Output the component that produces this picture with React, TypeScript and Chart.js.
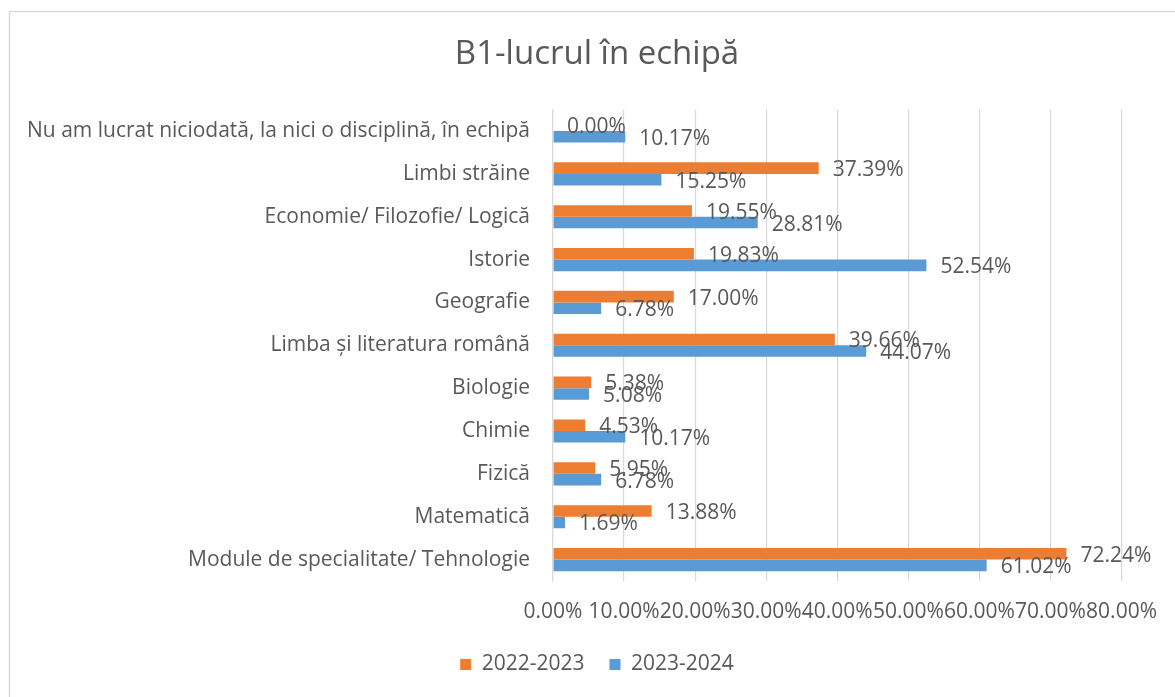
import React, { useEffect, useRef } from "react";
import { Chart, registerables } from "chart.js";

Chart.register(...registerables);

const categories = [
  "Nu am lucrat niciodată, la nici o disciplină, în echipă",
  "Limbi străine",
  "Economie/ Filozofie/ Logică",
  "Istorie",
  "Geografie",
  "Limba și literatura română",
  "Biologie",
  "Chimie",
  "Fizică",
  "Matematică",
  "Module de specialitate/ Tehnologie",
];

const series2022 = [0.0, 37.39, 19.55, 19.83, 17.0, 39.66, 5.38, 4.53, 5.95, 13.88, 72.24];
const series2023 = [10.17, 15.25, 28.81, 52.54, 6.78, 44.07, 5.08, 10.17, 6.78, 1.69, 61.02];

const seriesNames = ["2022-2023", "2023-2024"];
const titleText = "B1-lucrul în echipă";

const FONT = "'Open Sans', 'Noto Sans', sans-serif";
const TEXT = "#595959";
const FS = 21;

const labelsPlugin = {
  id: "valueLabels",
  afterDatasetsDraw(chart: any) {
    const ctx = chart.ctx;
    ctx.save();
    ctx.font = `${FS}px ${FONT}`;
    ctx.fillStyle = TEXT;
    ctx.textAlign = "left";
    ctx.textBaseline = "middle";
    chart.data.datasets.forEach((ds: any, di: number) => {
      const meta = chart.getDatasetMeta(di);
      meta.data.forEach((el: any, i: number) => {
        const v = ds.data[i] as number;
        ctx.fillText(`${v.toFixed(2)}%`, el.x + 14, el.y + 2);
      });
    });
    ctx.restore();
  },
};

const framePlugin = {
  id: "frame",
  beforeDraw(chart: any) {
    const ctx = chart.ctx;
    ctx.save();
    ctx.fillStyle = "#ffffff";
    ctx.fillRect(0, 0, chart.width, chart.height);
    ctx.strokeStyle = "#d9d9d9";
    ctx.lineWidth = 1.5;
    ctx.strokeRect(9.5, 11.5, 1180, 720);
    ctx.restore();
  },
};

export default function App() {
  const ref = useRef<HTMLCanvasElement | null>(null);

  useEffect(() => {
    if (!ref.current) return;
    const chart = new Chart(ref.current, {
      type: "bar",
      data: {
        labels: categories,
        datasets: [
          {
            label: seriesNames[0],
            data: series2022,
            backgroundColor: "#ED7D31",
            categoryPercentage: 0.54,
            barPercentage: 1.0,
          },
          {
            label: seriesNames[1],
            data: series2023,
            backgroundColor: "#5B9BD5",
            categoryPercentage: 0.54,
            barPercentage: 1.0,
          },
        ],
      },
      options: {
        indexAxis: "y",
        animation: false,
        responsive: false,
        maintainAspectRatio: false,
        layout: { padding: { left: 71, right: 52, top: 0, bottom: 12 } },
        plugins: {
          title: {
            display: true,
            text: titleText,
            color: TEXT,
            font: { family: FONT, size: 33, weight: "normal", lineHeight: 1.2 },
            padding: { top: 35, bottom: 35 },
          },
          legend: {
            position: "bottom",
            labels: {
              color: TEXT,
              font: { family: FONT, size: FS },
              boxWidth: 11,
              boxHeight: 11,
              padding: 25,
            },
          },
          tooltip: { enabled: false },
        },
        scales: {
          x: {
            min: 0,
            max: 80,
            ticks: {
              stepSize: 10,
              autoSkip: false,
              maxRotation: 0,
              minRotation: 0,
              padding: 18,
              color: TEXT,
              font: { family: FONT, size: FS },
              callback: (v: any) => `${Number(v).toFixed(2)}%`,
            },
            grid: { color: "#d9d9d9", drawTicks: false, lineWidth: 1.2 },
            border: { display: false },
            afterFit: (s: any) => {
              s.height = 48;
            },
          },
          y: {
            ticks: {
              padding: 23,
              color: TEXT,
              font: { family: FONT, size: FS },
              autoSkip: false,
            },
            grid: { display: false, drawTicks: false },
            border: { display: true, color: "#d9d9d9", width: 1.2 },
            afterFit: (s: any) => {
              s.width = 553 - 71;
              s._computeLabelArea = () => undefined;
            },
          },
        },
      },
      plugins: [framePlugin, labelsPlugin],
    });
    return () => chart.destroy();
  }, []);

  return (
    <div style={{ position: "fixed", left: 0, top: 0, width: 1175, height: 697, background: "#fff" }}>
      <canvas ref={ref} width={1175} height={697} style={{ display: "block" }} />
    </div>
  );
}
